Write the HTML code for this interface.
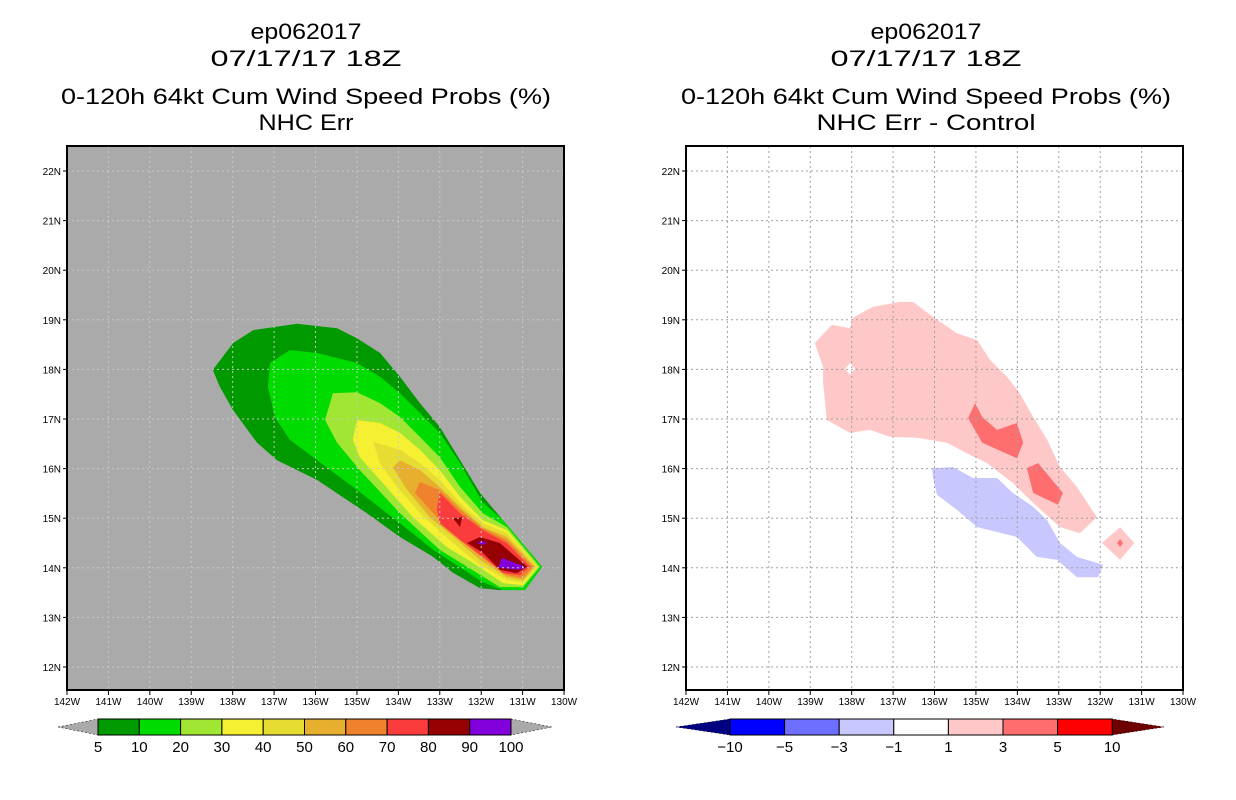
<!DOCTYPE html>
<html><head><meta charset="utf-8"><style>
body{margin:0;background:#fff;width:1236px;height:800px;overflow:hidden}
svg{display:block}
text{font-family:"Liberation Sans",sans-serif;fill:#000}
</style></head><body>
<svg id="c" width="1236" height="800"></svg>
<script>
// ---- data ----
const lonTicks=[142,141,140,139,138,137,136,135,134,133,132,131,130];
const latTicks=[12,13,14,15,16,17,18,19,20,21,22];
const leftLevels=["5","10","20","30","40","50","60","70","80","90","100"];
const leftColors=["#009900","#00dc00","#a0e632","#f5f032","#e6dc32","#e6af2d","#f0822d","#fa3c3c","#960000","#8200dc"];
const rightLevels=["-10","-5","-3","-1","1","3","5","10"];
const rightColors=["#0000ff","#6e6eff","#c8c8ff","#ffffff","#ffc8c8","#ff6e6e","#ff0000"];
const c5=[[138.48,17.99],[137.99,18.53],[137.51,18.79],[136.45,18.92],[135.48,18.83],[135.0,18.63],[134.44,18.33],[133.96,17.85],[133.48,17.32],[133.0,16.84],[132.51,16.17],[132.03,15.51],[130.53,14.02],[130.89,13.61],[131.55,13.55],[132.03,13.59],[132.68,13.90],[133.16,14.22],[133.96,14.62],[134.76,15.10],[135.96,15.77],[136.93,16.17],[137.41,16.52],[137.99,17.18],[138.31,17.65]];
const c10=[[137.10,18.13],[136.62,18.39],[135.96,18.33],[135.0,18.13],[134.44,17.85],[133.96,17.52],[133.48,17.12],[133.0,16.72],[132.51,16.11],[131.96,15.31],[131.47,14.96],[130.53,14.02],[130.94,13.55],[131.47,13.55],[131.96,13.71],[132.68,14.10],[133.16,14.36],[133.96,14.90],[135.0,15.57],[135.96,16.17],[136.62,16.58],[136.98,17.04],[137.15,17.65]];
const c20=[[135.58,17.52],[135.0,17.54],[134.44,17.32],[133.96,17.04],[133.48,16.64],[133.0,16.23],[132.51,15.63],[131.96,15.10],[131.38,14.82],[130.58,14.02],[130.99,13.61],[131.55,13.61],[132.34,14.02],[133.0,14.36],[133.96,15.10],[134.93,15.97],[135.48,16.52],[135.77,16.98]];
const c30=[[135.0,16.98],[134.44,16.92],[133.96,16.72],[133.48,16.38],[133.0,15.97],[132.51,15.43],[131.96,14.96],[131.38,14.76],[130.63,14.02],[130.99,13.65],[131.47,13.69],[132.20,14.10],[132.83,14.42],[133.65,15.02],[134.44,15.77],[134.93,16.23],[135.10,16.58]];
const c40=[[134.61,16.54],[133.96,16.38],[133.48,16.11],[133.0,15.77],[132.51,15.31],[131.96,14.90],[131.38,14.70],[130.65,14.02],[130.99,13.71],[131.38,13.75],[132.10,14.10],[132.68,14.50],[133.48,15.10],[134.03,15.63],[134.44,16.11]];
const c50=[[133.96,16.17],[133.48,15.97],[133.0,15.63],[132.51,15.23],[131.96,14.82],[131.38,14.62],[130.70,14.02],[130.99,13.75],[131.38,13.81],[132.03,14.16],[132.58,14.56],[133.24,15.02],[133.79,15.57],[134.13,16.03]];
const c60=[[133.48,15.73],[133.0,15.57],[132.51,15.17],[131.96,14.80],[131.38,14.56],[130.75,14.02],[130.99,13.79],[131.38,13.85],[131.96,14.20],[132.51,14.56],[133.16,15.10],[133.60,15.51]];
const c70=[[133.0,15.51],[132.51,15.10],[131.96,14.76],[131.38,14.50],[130.82,14.02],[131.06,13.85],[131.47,13.89],[131.96,14.22],[132.51,14.56],[133.0,14.90],[133.07,15.17]];
const c80a=[[132.34,14.50],[132.03,14.62],[131.55,14.50],[130.89,14.02],[131.14,13.89],[131.55,13.96],[131.96,14.30]];
const c80b=[[132.68,15.0],[132.46,15.02],[132.51,14.82]];
const c90a=[[131.50,14.2],[130.94,14.02],[131.06,13.96],[131.59,14.0]];
const c90b=[[132.10,14.50],[131.98,14.54],[131.86,14.50],[131.98,14.46]];
const d1=[[138.89,18.53],[138.48,18.90],[138.04,18.83],[137.97,19.04],[137.49,19.26],[136.83,19.36],[136.52,19.36],[136.04,19.06],[135.46,18.73],[134.97,18.59],[134.66,18.19],[134.25,17.85],[133.94,17.52],[133.62,17.04],[133.28,16.58],[132.97,16.03],[132.56,15.63],[132.08,15.02],[132.49,14.70],[132.97,14.82],[133.62,15.31],[134.11,15.71],[134.73,16.11],[135.22,16.31],[135.70,16.52],[136.42,16.62],[137.07,16.64],[137.56,16.78],[138.04,16.72],[138.60,16.98],[138.69,17.73],[138.69,18.05]];
const d1hole=[[138.16,18.01],[138.04,18.13],[137.92,18.01],[138.04,17.89]];
const d1b=[[131.96,14.50],[131.52,14.82],[131.18,14.50],[131.52,14.16]];
const d3a=[[135.02,17.32],[134.85,17.04],[134.49,16.78],[134.01,16.92],[133.86,16.52],[134.01,16.21],[134.85,16.52],[135.19,17.02]];
const d3b=[[133.77,16.01],[133.50,16.11],[132.90,15.51],[133.02,15.27],[133.62,15.51]];
const d3c=[[131.59,14.5],[131.52,14.58],[131.45,14.5],[131.52,14.42]];
const dneg=[[136.06,16.01],[135.55,16.03],[135.07,15.81],[134.49,15.81],[134.11,15.51],[133.62,15.23],[133.28,14.96],[132.97,14.50],[132.56,14.22],[131.93,14.06],[132.05,13.81],[132.56,13.81],[133.04,14.16],[133.53,14.22],[134.01,14.62],[134.97,14.82],[135.46,15.17],[135.94,15.47],[136.04,15.83]];

// ---- drawing ----
const NS="http://www.w3.org/2000/svg";
const svg=document.getElementById('c');
function mk(t,a,p){const e=document.createElementNS(NS,t);for(const k in a)e.setAttribute(k,a[k]);(p||svg).appendChild(e);return e;}
const Y0=146,Y1=690;
function xs(x0){return w=>x0+(142-w)*41.42;}
function ys(l){return 171+(22-l)*49.6;}
function poly(g,pts,fill,X,name){const e=mk('polygon',{points:pts.map(p=>X(p[0]).toFixed(1)+','+ys(p[1]).toFixed(1)).join(' '),fill:fill},g);

}
function panel(x0,bg,cx,t4,w4,pname){
  const X=xs(x0),x1=x0+497;
  const g=mk('g',{});
  
  
  const titles=[["ep062017",39,111],["07/17/17 18Z",66,191],["0-120h 64kt Cum Wind Speed Probs (%)",104,490],[t4,130,w4]];
  titles.forEach((t,i)=>{const a={x:cx,y:t[1],'text-anchor':'middle','font-size':22,textLength:t[2],lengthAdjust:'spacingAndGlyphs'};
    const e=mk('text',a,g);e.textContent=t[0];
    
    });
  const bgR=mk('rect',{x:x0,y:Y0,width:497,height:Y1-Y0,fill:bg},g);
  
  
  const fills=mk('g',{},g);
  const grid=mk('g',{stroke:bg=='#fff'?'#a0a0a0':'#c8c8c8','stroke-width':1,'stroke-dasharray':'2,3'},g);
  lonTicks.slice(1,-1).forEach(w=>mk('line',{x1:X(w),x2:X(w),y1:Y0,y2:Y1},grid));
  latTicks.forEach(l=>mk('line',{x1:x0,x2:x1,y1:ys(l),y2:ys(l)},grid));
  const fr=mk('rect',{x:x0,y:Y0,width:497,height:Y1-Y0,fill:'none',stroke:'#000','stroke-width':2},g);
  
  
  lonTicks.forEach(w=>{mk('line',{x1:X(w),x2:X(w),y1:Y1,y2:Y1+5,stroke:'#000'},g);
    const t=mk('text',{x:X(w),y:Y1+15,'text-anchor':'middle','font-size':10},g);t.textContent=w+'W';
    
    });
  latTicks.forEach(l=>{mk('line',{x1:x0-4,x2:x0,y1:ys(l),y2:ys(l),stroke:'#000'},g);
    const t=mk('text',{x:x0-6,y:ys(l)+4,'text-anchor':'end','font-size':10},g);t.textContent=l+'N';
    
    });
  return {fills,X};
}
const L=panel(67,'#aaaaaa',306,'NHC Err',95,'left-panel');
[[c5,0],[c10,1],[c20,2],[c30,3],[c40,4],[c50,5],[c60,6],[c70,7],[c80a,8],[c80b,8],[c90a,9],[c90b,9]].forEach(p=>poly(L.fills,p[0],leftColors[p[1]],L.X,'contour-'+leftLevels[p[1]]));
const R=panel(686,'#fff',926,'NHC Err - Control',219,'right-panel');
poly(R.fills,d1,rightColors[4],R.X,'contour-pos-1');
poly(R.fills,d1hole,'#ffffff',R.X,'contour-hole');
poly(R.fills,d1b,rightColors[4],R.X,'contour-pos-1');
poly(R.fills,d3a,rightColors[5],R.X,'contour-pos-3');
poly(R.fills,d3b,rightColors[5],R.X,'contour-pos-3');
poly(R.fills,d3c,rightColors[5],R.X,'contour-pos-3');
poly(R.fills,dneg,rightColors[2],R.X,'contour-neg-1');

function colorbar(x0,bw,tipL,tipR,colors,labels,lowC,highC,name){
  const g=mk('g',{});
  
  
  const yT=719,yB=735,ym=727,xe=x0+bw*colors.length;
  mk('polygon',{points:`${tipL},${ym} ${x0},${yT} ${x0},${yB}`,fill:lowC,stroke:'#000','stroke-width':0.5,'stroke-dasharray':'2,2'},g);
  mk('polygon',{points:`${tipR},${ym} ${xe},${yT} ${xe},${yB}`,fill:highC,stroke:'#000','stroke-width':0.5,'stroke-dasharray':'2,2'},g);
  colors.forEach((c,i)=>{const r=mk('rect',{x:x0+i*bw,y:yT,width:bw,height:yB-yT,fill:c,stroke:'#000','stroke-width':1},g);
    
    });
  labels.forEach((s,i)=>{const t=mk('text',{x:x0+i*bw,y:752,'text-anchor':'middle','font-size':15},g);t.textContent=s.replace('-','\u2212');
    
    });
}
colorbar(98,41.3,58,552,leftColors,leftLevels,'#aaaaaa','#aaaaaa','left-colorbar');
colorbar(730,54.6,676,1164,rightColors,rightLevels,'#000080','#6e0000','right-colorbar');
</script>
</body></html>
